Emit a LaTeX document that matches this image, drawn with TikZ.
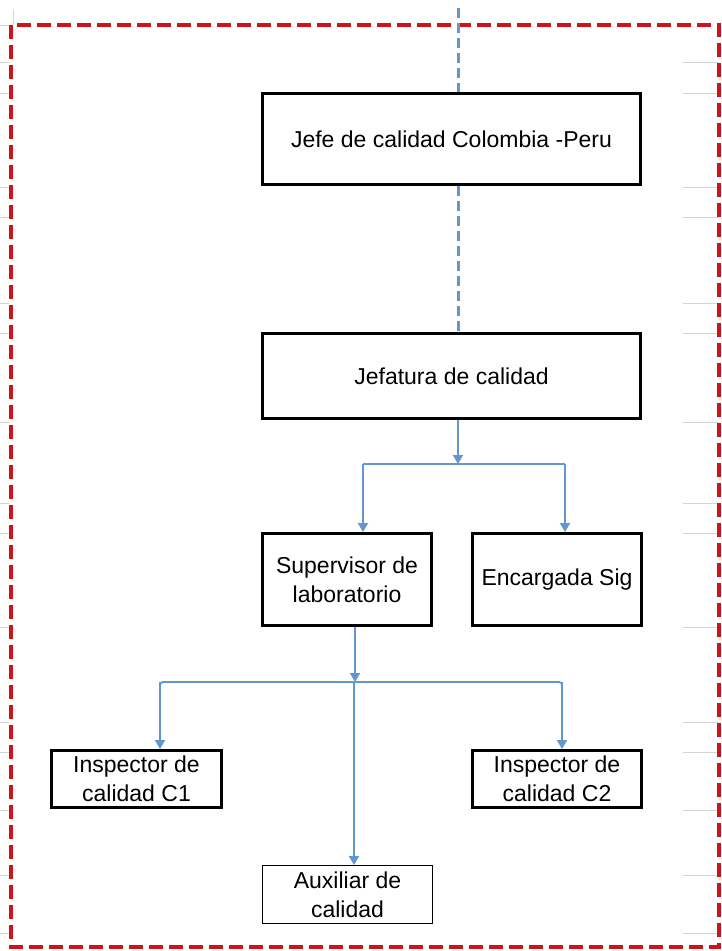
\documentclass[tikz,border=0pt]{standalone}
\usepackage{fontspec}
\setmainfont{Liberation Sans}
\usetikzlibrary{arrows.meta,calc}
\definecolor{conn}{RGB}{98,150,206}
\definecolor{framered}{RGB}{205,20,25}
\definecolor{gridgray}{RGB}{212,212,212}
\begin{document}
\begin{tikzpicture}[x=1pt,y=-1pt,
  box/.style={draw=black, line width=3pt, fill=white, inner sep=0pt, align=center,
    font=\fontsize{23}{29}\selectfont},
  thinbox/.style={box, line width=1pt},
  link/.style={draw=conn, line width=1.8pt},
  arr/.style={link, -{Triangle[width=10pt,length=9pt]}},
  dlink/.style={draw=conn, line width=3pt, dash pattern=on 10pt off 5pt},
  gridline/.style={draw=gridgray, line width=1pt}]
\useasboundingbox (0,0) rectangle (721,951);
% faint sheet gridlines at the margins
\foreach \yy in {62,93,187,217,303,333,422,503,533,627,722,752,810,875,933}{
  \draw[gridline] (0,\yy) -- (9,\yy);
  \draw[gridline] (683,\yy) -- (719,\yy);
}
\draw[gridline] (0,25) -- (9,25);
\draw[gridline] (13,10) -- (13,25);
% frame
\draw[draw=framered, line width=3.5pt, dash pattern=on 14pt off 6pt] (11,25) rectangle (719,947);
% boxes
\node[box, minimum width=378pt, minimum height=91pt] (jefe) at (451.5,139) {Jefe de calidad Colombia -Peru};
\node[box, minimum width=378pt, minimum height=85pt] (jefatura) at (451.5,376) {Jefatura de calidad};
\node[box, minimum width=169pt, minimum height=92pt] (sup) at (347,579.5) {Supervisor de\\laboratorio};
\node[box, minimum width=169pt, minimum height=92pt] (enc) at (557,579.5) {Encargada Sig};
\node[box, minimum width=170pt, minimum height=57pt] (c1) at (136.5,779) {Inspector de\\calidad C1};
\node[box, minimum width=169pt, minimum height=57pt] (c2) at (557,779) {Inspector de\\calidad C2};
\node[thinbox, minimum width=170pt, minimum height=58pt] (aux) at (347.5,894.5) {Auxiliar de\\calidad};
% coordinates
\coordinate (topend) at (458,8);
\coordinate (j1) at (458,464);
\coordinate (hl) at (363,464);
\coordinate (hr) at (565,464);
\coordinate (j2) at (355,682);
\coordinate (gl) at (160,682);
\coordinate (gr) at (562,682);
\coordinate (ga) at (354,682);
% dashed link to upper level
\draw[dlink] (topend) -- (topend |- jefe.north);
\draw[dlink] (topend |- jefe.south) -- (topend |- jefatura.north);
% jefatura branches
\draw[arr] (j1 |- jefatura.south) -- (j1);
\draw[link] (hl) -- (hr);
\draw[arr] (hl) -- (hl |- sup.north);
\draw[arr] (hr) -- (hr |- enc.north);
% supervisor branches
\draw[arr] (j2 |- sup.south) -- (j2);
\draw[link, rounded corners=3pt] ($(gl)+(0,20)$) -- (gl) -- (gr) -- ($(gr)+(0,20)$);
\draw[arr] (gl) -- (gl |- c1.north);
\draw[arr] (gr) -- (gr |- c2.north);
\draw[arr] (ga) -- (ga |- aux.north);
\end{tikzpicture}
\end{document}
